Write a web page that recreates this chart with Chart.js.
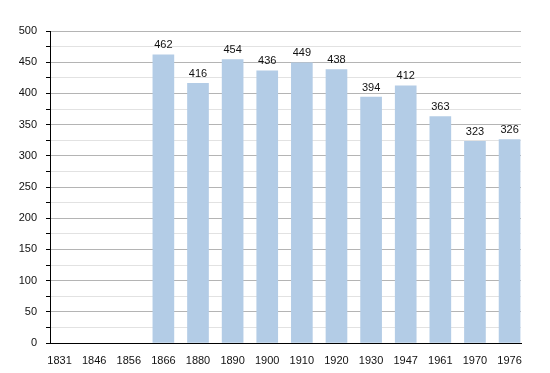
<!DOCTYPE html>
<html>
<head>
<meta charset="utf-8">
<script src="https://cdn.jsdelivr.net/npm/chart.js@4"></script>
<style>
  html, body { margin: 0; padding: 0; background: #fff; }
  #wrap { width: 550px; height: 373px; }
</style>
</head>
<body>
<div id="wrap"><canvas id="pop"></canvas></div>
<script>
const years = ['1831', '1846', '1856', '1866', '1880', '1890', '1900', '1910', '1920', '1930', '1947', '1961', '1970', '1976']
const population = [null, null, null, 462, 416, 454, 436, 449, 438, 394, 412, 363, 323, 326]
const yTicks = [0, 50, 100, 150, 200, 250, 300, 350, 400, 450, 500]

// value labels above each bar
const barLabels = {
  id: 'barLabels',
  afterDatasetsDraw(chart) {
    const ctx = chart.ctx
    ctx.save()
    ctx.font = '11px "Liberation Sans", Arial, sans-serif'
    ctx.fillStyle = '#111'
    ctx.textAlign = 'center'
    ctx.textBaseline = 'bottom'
    chart.getDatasetMeta(0).data.forEach((bar, i) => {
      if (population[i] == null) return
      ctx.fillText(population[i], bar.x, bar.y - 4)
    })
    ctx.restore()
  }
}

new Chart(document.getElementById('pop'), {
  type: 'bar',
  data: {
    datasets: [{
      data: years.map((y, i) => ({ x: i, y: population[i] })),
      backgroundColor: '#b3cce6',
      barThickness: 21
    }]
  },
  options: {
    responsive: true,
    maintainAspectRatio: false,
    animation: false,
    layout: { padding: { top: 31, right: 29, left: 0, bottom: 0 } },
    scales: {
      x: {
        type: 'linear',
        offset: false,
        min: -0.275,
        max: 13.33,
        afterBuildTicks: scale => { scale.ticks = years.map((y, i) => ({ value: i })) },
        afterFit: scale => { scale.height = 30 },
        grid: { display: false },
        border: { color: '#000', width: 1 },
        ticks: {
          autoSkip: false,
          maxRotation: 0,
          padding: 3,
          color: '#111',
          font: { family: '"Liberation Sans", Arial, sans-serif', size: 11 },
          callback: v => years[v]
        }
      },
      y: {
        min: 0,
        max: 500,
        afterFit: scale => { scale.width = 50 },
        ticks: {
          stepSize: 25,
          autoSkip: false,
          padding: 9,
          color: '#111',
          font: { family: '"Liberation Sans", Arial, sans-serif', size: 11 },
          callback: v => yTicks.includes(v) ? v : ''
        },
        grid: {
          color: c => c.tick && c.tick.value % 50 === 0 ? '#b4b4b4' : '#e2e2e2',
          tickColor: '#000',
          tickLength: 4
        },
        border: { color: '#000', width: 1 }
      }
    },
    plugins: {
      legend: { display: false },
      tooltip: { enabled: false }
    }
  },
  plugins: [barLabels]
})
</script>
</body>
</html>
